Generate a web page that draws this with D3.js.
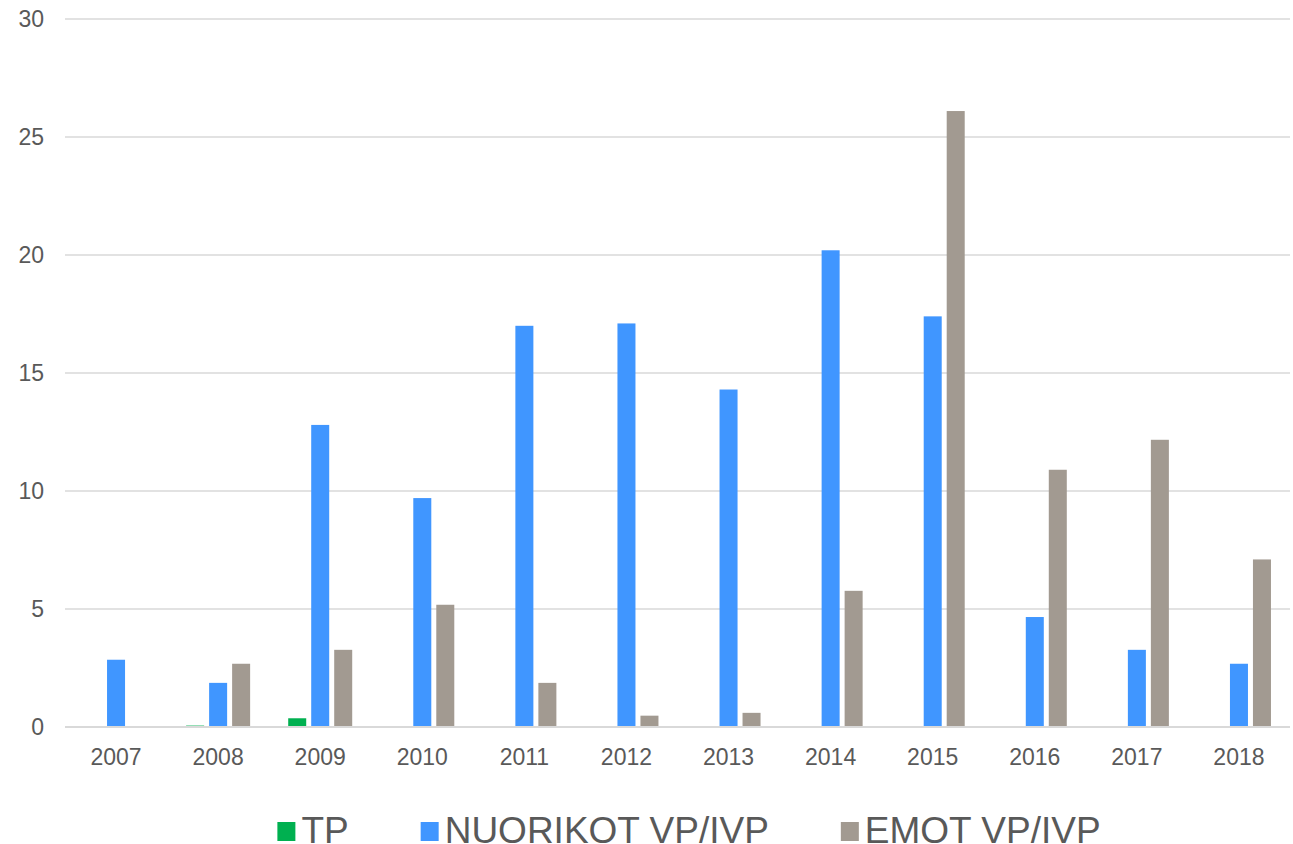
<!DOCTYPE html>
<html>
<head>
<meta charset="utf-8">
<script src="https://cdn.jsdelivr.net/npm/d3@7"></script>
<style>
  body { margin: 0; background: #fff; }
  text { font-family: "Liberation Sans", Arial, sans-serif; fill: #595959; }
</style>
</head>
<body>
<div id="chart"></div>
<script>
// data
const years = ["2007", "2008", "2009", "2010", "2011", "2012", "2013", "2014", "2015", "2016", "2017", "2018"];
const seriesNames = ["TP", "NUORIKOT VP/IVP", "EMOT VP/IVP"];
const seriesColors = ["#00B050", "#4096FF", "#A29A91"];
const tp = [0.02, 0.06, 0.37, 0, 0, 0, 0, 0, 0, 0, 0, 0];
const nuorikot = [2.85, 1.87, 12.8, 9.7, 17.0, 17.1, 14.3, 20.2, 17.4, 4.66, 3.27, 2.68];
const emot = [0, 2.68, 3.27, 5.18, 1.87, 0.48, 0.6, 5.77, 26.1, 10.9, 12.17, 7.1];
const yTicks = [0, 5, 10, 15, 20, 25, 30];

const width = 1293, height = 844;
const margin = {top: 19, right: 3, bottom: 117, left: 65};

const svg = d3.select("#chart").append("svg")
    .attr("width", width)
    .attr("height", height);

const table = years.map((y, i) => ({year: y, values: [tp[i], nuorikot[i], emot[i]]}));

const x0 = d3.scaleBand()
    .domain(years)
    .range([margin.left, width - margin.right])
    .paddingInner(0.373)
    .paddingOuter(0.1865);

const x1 = d3.scaleBand()
    .domain(d3.range(seriesNames.length))
    .range([0, x0.bandwidth()])
    .paddingInner(0.217);

const y = d3.scaleLinear()
    .domain([0, 30])
    .range([height - margin.bottom, margin.top]);

// gridlines
svg.append("g")
  .selectAll("line")
  .data(yTicks)
  .enter().append("line")
    .attr("x1", margin.left)
    .attr("x2", width - margin.right)
    .attr("y1", d => y(d))
    .attr("y2", d => y(d))
    .attr("stroke", "#D9D9D9")
    .attr("stroke-width", 1.5);

// y labels
svg.append("g")
  .selectAll("text")
  .data(yTicks)
  .enter().append("text")
    .attr("x", 44)
    .attr("y", d => y(d))
    .attr("dy", "0.35em")
    .attr("text-anchor", "end")
    .style("font-size", "23px")
    .text(d => d);

// bars
const groups = svg.append("g")
  .selectAll("g")
  .data(table)
  .enter().append("g")
    .attr("transform", d => `translate(${x0(d.year)},0)`);

groups.selectAll("rect")
  .data(d => d.values.map((v, i) => ({v, i})))
  .enter().append("rect")
    .attr("x", d => x1(d.i))
    .attr("width", x1.bandwidth())
    .attr("y", d => y(d.v))
    .attr("height", d => y(0) - y(d.v))
    .attr("fill", d => seriesColors[d.i]);

// baseline on top
svg.append("line")
    .attr("x1", margin.left)
    .attr("x2", width - margin.right)
    .attr("y1", y(0))
    .attr("y2", y(0))
    .attr("stroke", "#D9D9D9")
    .attr("stroke-width", 2);

// x labels
svg.append("g")
  .selectAll("text")
  .data(years)
  .enter().append("text")
    .attr("x", d => x0(d) + x0.bandwidth() / 2)
    .attr("y", 765)
    .attr("text-anchor", "middle")
    .style("font-size", "23px")
    .text(d => d);

// legend
const legend = svg.append("g");
let lx = 0;
seriesNames.forEach((name, i) => {
    const item = legend.append("g").attr("transform", `translate(${lx},0)`);
    item.append("rect")
        .attr("x", 0)
        .attr("y", -21)
        .attr("width", 18)
        .attr("height", 19)
        .attr("fill", seriesColors[i]);
    const t = item.append("text")
        .attr("x", 24)
        .attr("y", 0)
        .style("font-size", "37px")
        .text(name);
    lx += 24 + t.node().getComputedTextLength() + 72;
});
const legendWidth = lx - 72;
legend.attr("transform", `translate(${689 - legendWidth / 2},843)`);
</script>
</body>
</html>
